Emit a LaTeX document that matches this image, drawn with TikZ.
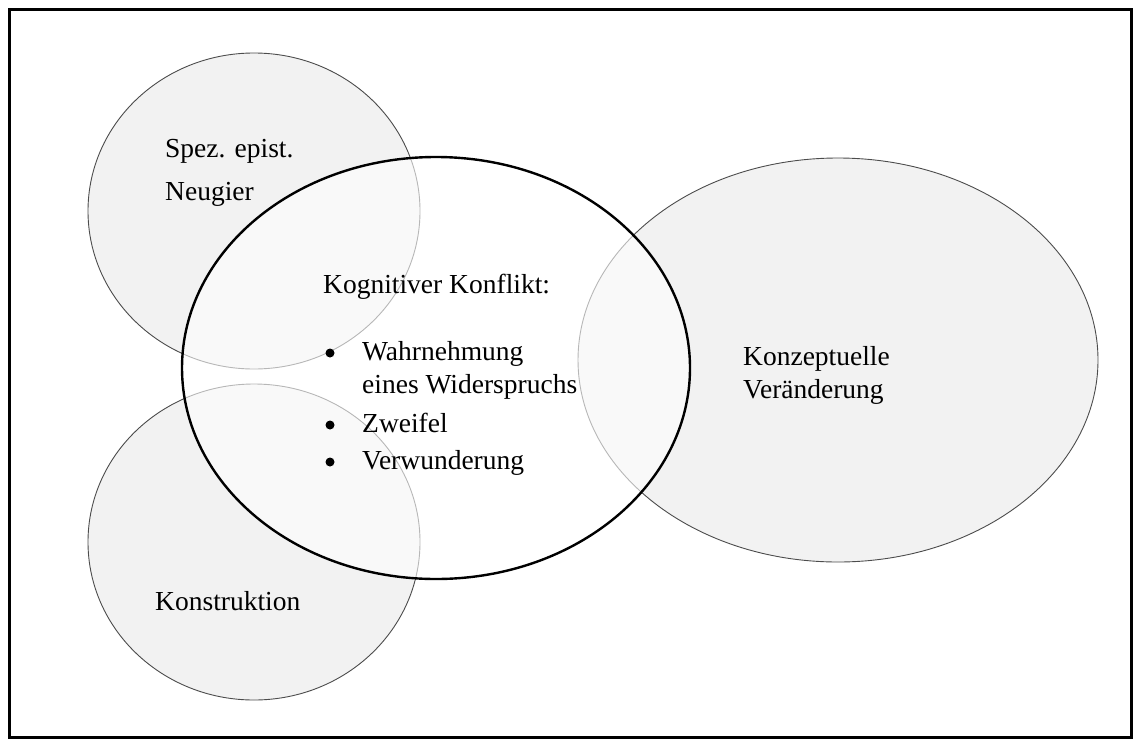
\documentclass[tikz,border=0pt]{standalone}
\usepackage{fontspec}
\setmainfont{Liberation Serif}
\usetikzlibrary{shapes.geometric}
\begin{document}
\begin{tikzpicture}[x=1pt,y=-1pt,
  lbl/.style={anchor=base west,inner sep=0pt,font=\fontsize{27.5}{33}\selectfont},
  dot/.style={circle,fill=black,inner sep=0pt,minimum size=9pt},
  side/.style={ellipse,inner sep=0pt,draw=black!70,line width=0.9pt,fill=black!5},
  core/.style={ellipse,inner sep=0pt,draw=black,line width=2.4pt,fill=white,fill opacity=0.6},
  frame/.style={draw=black,line width=3pt}]
\useasboundingbox (0,0) rectangle (1139,744);
\draw[frame] (9.5,9.5) rectangle (1131,737);
% side shapes
\node[side,minimum width=332pt,minimum height=316pt] (top) at (254,211) {};
\node[side,minimum width=332pt,minimum height=316pt] (bot) at (254,542) {};
\node[side,minimum width=520pt,minimum height=404pt] (right) at (838,360) {};
% central ellipse
\node[core,minimum width=508pt,minimum height=422pt] (core) at (436,368) {};
% texts
\node[lbl] (t1) at (165,157) {Spez. epist.};
\node[lbl] (t2) at (165,200) {Neugier};
\node[lbl] (k0) at (323,293) {Kognitiver Konflikt:};
\node[dot] (b1) at (330,353) {};
\node[lbl] (k1) at (362,360) {Wahrnehmung};
\node[lbl] (k2) at (362,393) {eines Widerspruchs};
\node[dot] (b2) at (330,425) {};
\node[lbl] (k3) at (362,432) {Zweifel};
\node[dot] (b3) at (330,462) {};
\node[lbl] (k4) at (362,469) {Verwunderung};
\node[lbl] (r1) at (743,365) {Konzeptuelle};
\node[lbl] (r2) at (743,398) {Veränderung};
\node[lbl] (c1) at (155,610) {Konstruktion};
\end{tikzpicture}
\end{document}
